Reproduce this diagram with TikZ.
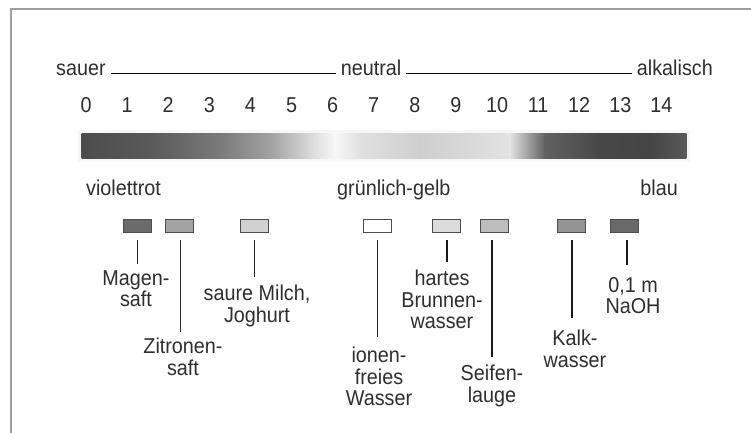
\documentclass[tikz,border=0pt]{standalone}
\usepackage{fontspec}
\setmainfont{Liberation Sans}[FakeStretch=0.92]
\begin{document}
\begin{tikzpicture}[x=1pt,y=-1pt,
  txt/.style={font=\fontsize{21.5}{21.5}\selectfont, text=black!82, inner sep=0pt, align=center},
  sw/.style={draw=black!70, line width=0.8pt, minimum width=28pt, minimum height=13pt, inner sep=0pt},
  thinc/.style={draw=black!85, line width=0.9pt},
  thickc/.style={draw=black!90, line width=1.7pt},
  frame/.style={draw=black!38, line width=2pt},
  rule/.style={draw=black, line width=1.3pt}]
\useasboundingbox (0,0) rectangle (751,432);
% frame (top and left edges visible)
\draw[frame] (760,9) -- (10.5,9) -- (10.5,440);
% scale heading
\node[txt,anchor=base west] (sauer) at (56,75) {sauer};
\node[txt,anchor=base] (neutral) at (371,75) {neutral};
\node[txt,anchor=base east] (alk) at (713,75) {alkalisch};
\draw[rule] ([xshift=5pt,yshift=1.5pt]sauer.base east) -- ([xshift=-5pt,yshift=1.5pt]neutral.base west);
\draw[rule] ([xshift=5pt,yshift=1.5pt]neutral.base east) -- ([xshift=-5pt,yshift=1.5pt]alk.base west);
% digits
\foreach \k in {0,...,14}
  \node[txt,anchor=base] (d\k) at ({86+41.1*\k},112) {\k};
% soft halo of the bar
\fill[black!3] (78,130) rectangle (690,162);
% gradient bar
\foreach \a/\b/\ca/\cb in {82/150/70/65, 150/220/65/52, 220/270/52/37, 270/310/37/15,
  310/335/15/3, 335/360/3/12, 360/420/12/19, 420/470/19/15, 470/510/15/11,
  510/545/11/62, 545/600/62/72, 600/650/72/73, 650/686/73/65}
  \fill[left color=black!\ca, right color=black!\cb] (\a-0.3,133) rectangle (\b+0.3,158);
% colour words
\node[txt,anchor=base west] (violett) at (86,195) {violettrot};
\node[txt,anchor=base west] (gruen) at (337,195) {grünlich-gelb};
\node[txt,anchor=base east] (blau) at (678,195) {blau};
% swatches
\node[sw,fill=black!58] (s1) at (137,225.5) {};
\node[sw,fill=black!36] (s2) at (179.5,225.5) {};
\node[sw,fill=black!18] (s3) at (254,225.5) {};
\node[sw,fill=white]    (s4) at (377,225.5) {};
\node[sw,fill=black!14] (s5) at (446,225.5) {};
\node[sw,fill=black!26] (s6) at (494,225.5) {};
\node[sw,fill=black!42] (s7) at (571,225.5) {};
\node[sw,fill=black!59] (s8) at (624.5,225.5) {};
% labels
\node[txt,anchor=north] (l1) at (136,270) {Magen-\\saft};
\node[txt,anchor=north] (l2) at (183,338) {Zitronen-\\saft};
\node[txt,anchor=north] (l3) at (257,285) {saure Milch,\\Joghurt};
\node[txt,anchor=north] (l4) at (379,347) {ionen-\\freies\\Wasser};
\node[txt,anchor=north] (l5) at (442,270) {hartes\\Brunnen-\\wasser};
\node[txt,anchor=north] (l6) at (492,365) {Seifen-\\lauge};
\node[txt,anchor=north] (l7) at (575,330) {Kalk-\\wasser};
\node[txt,anchor=north] (l8) at (633,277) {0,1 m\\NaOH};
% connector ends
\coordinate (e1) at (137,264);
\coordinate (e2) at (180,332);
\coordinate (e3) at (254,277);
\coordinate (e4) at (377,337);
\coordinate (e5) at (447,262);
\coordinate (e6) at (492,357);
\coordinate (e7) at (572,318);
\coordinate (e8) at (627,265);
% connectors
\draw[thinc] ([yshift=-8pt]s1.south -| e1) -- (e1);
\draw[thinc] ([yshift=-8pt]s2.south -| e2) -- (e2);
\draw[thinc] ([yshift=-8pt]s3.south -| e3) -- (e3);
\draw[thinc] ([yshift=-8pt]s4.south -| e4) -- (e4);
\draw[thickc] ([yshift=-8pt]s5.south -| e5) -- (e5);
\draw[thickc] ([yshift=-8pt]s6.south -| e6) -- (e6);
\draw[thickc] ([yshift=-8pt]s7.south -| e7) -- (e7);
\draw[thickc] ([yshift=-8pt]s8.south -| e8) -- (e8);
\end{tikzpicture}
\end{document}
